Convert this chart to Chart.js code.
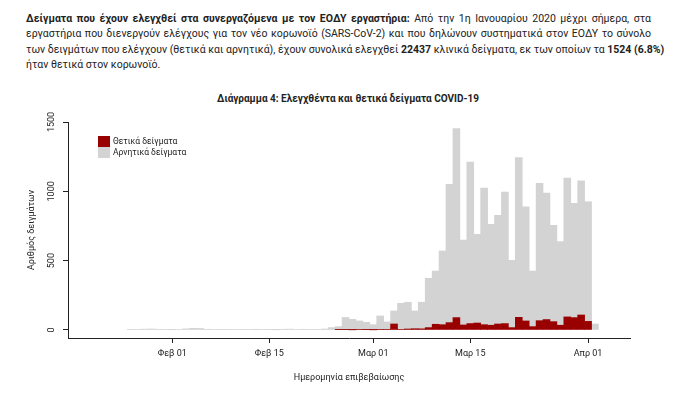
<!DOCTYPE html>
<html lang="el">
<head>
<meta charset="utf-8">
<script src="https://cdn.jsdelivr.net/npm/chart.js@4"></script>
<style>
  html, body { margin: 0; padding: 0; background: #fff; }
  body { width: 677px; height: 398px; position: relative; overflow: hidden; font-family: Roboto, "Noto Sans", sans-serif; color: #222; }
  .intro { position: absolute; left: 26px; top: 11px; width: 625px; font-size: 10.5px; line-height: 15.3px; }
  .intro div { text-align: justify; text-align-last: justify; white-space: nowrap; }
  .intro div.last { text-align-last: left; }
  .title { position: absolute; left: 148px; width: 400px; top: 93px; text-align: center; font-size: 10px; font-weight: bold; }
  #wrap { position: absolute; left: 0; top: 0; width: 677px; height: 398px; }
</style>
</head>
<body>
<div class="intro">
  <div><b>Δείγματα που έχουν ελεγχθεί στα συνεργαζόμενα με τον ΕΟΔΥ εργαστήρια:</b> Από την 1η Ιανουαρίου 2020 μέχρι σήμερα, στα</div>
  <div>εργαστήρια που διενεργούν ελέγχους για τον νέο κορωνοϊό (SARS-CoV-2) και που δηλώνουν συστηματικά στον ΕΟΔΥ το σύνολο</div>
  <div>των δειγμάτων που ελέγχουν (θετικά και αρνητικά), έχουν συνολικά ελεγχθεί <b>22437</b> κλινικά δείγματα, εκ των οποίων τα <b>1524 (6.8%)</b></div>
  <div class="last">ήταν θετικά στον κορωνοϊό.</div>
</div>
<div class="title">Διάγραμμα 4: Ελεγχθέντα και θετικά δείγματα COVID-19</div>
<div id="wrap"><canvas id="chart" width="677" height="398"></canvas></div>
<script>
// daily samples, 26 Jan - 3 Apr 2020
const firstDay = '2020-01-26';
const positive = [
  0, 0, 0, 0, 0, 0,
  0, 0, 0, 0, 0, 0, 0, 0, 0, 0, 0, 0, 0, 0,
  0, 0, 0, 0, 0, 0, 0, 0, 0, 0, 2, 2, 1, 3,
  2, 1, 3, 3, 43, 4, 7, 9, 8, 17, 41, 38, 53, 89, 36, 46,
  50, 38, 34, 43, 46, 17, 91, 65, 24, 67, 75, 60, 34, 94, 89,
  108, 62, 0
];
const negative = [
  3, 3, 6, 7, 5, 3,
  2, 4, 8, 12, 11, 5, 4, 3, 3, 4, 3, 3, 2, 3,
  2, 1, 5, 6, 4, 5, 3, 3, 7, 17, 22, 88, 76, 62,
  53, 37, 98, 55, 94, 188, 193, 128, 192, 356, 384, 532, 997, 1363, 613, 1165,
  640, 986, 728, 784, 949, 485, 1152, 824, 401, 991, 913, 695, 603, 1002, 824,
  967, 863, 43
];
const xTickDates = ['2020-02-01', '2020-02-15', '2020-03-01', '2020-03-15', '2020-04-01'];
const xTickLabels = ['Φεβ 01', 'Φεβ 15', 'Μαρ 01', 'Μαρ 15', 'Απρ 01'];
const yTicks = [0, 500, 1000, 1500];
const seriesLabels = ['Θετικά δείγματα', 'Αρνητικά δείγματα'];
const seriesColors = ['#990000', '#d3d3d3'];

function dayNumber(iso) {
  const [y, m, d] = iso.split('-').map(Number);
  return (Date.UTC(y, m - 1, d) - Date.UTC(2020, 0, 1)) / 864e5;
}

const start = dayNumber(firstDay);
// zero days are left out so that no empty bar is drawn
const toPoints = arr => arr.map((v, i) => ({ x: start + i, y: v === 0 ? null : v }));
const xTickValues = xTickDates.map(dayNumber);

const textColor = '#222';
const axisColor = '#222';
const fontFamily = 'Roboto, "Noto Sans", sans-serif';

const rotatedYLabels = {
  id: 'rotatedYLabels',
  afterDraw(chart) {
    const { ctx } = chart;
    const yScale = chart.scales.y;
    ctx.save();
    ctx.fillStyle = textColor;
    ctx.font = '9px ' + fontFamily;
    ctx.textAlign = 'center';
    ctx.textBaseline = 'middle';
    yTicks.forEach(v => {
      ctx.save();
      ctx.translate(52, yScale.getPixelForValue(v));
      ctx.rotate(-Math.PI / 2);
      ctx.fillText(String(v), 0, 0);
      ctx.restore();
    });
    ctx.restore();
  }
};

const boxLegend = {
  id: 'boxLegend',
  afterDraw(chart) {
    const { ctx } = chart;
    ctx.save();
    ctx.font = '8.5px ' + fontFamily;
    ctx.textBaseline = 'middle';
    seriesLabels.forEach((label, i) => {
      const top = 136 + i * 11;
      ctx.fillStyle = seriesColors[i];
      ctx.fillRect(98, top, 12, 11);
      ctx.fillStyle = textColor;
      ctx.fillText(label, 113, top + 5.5);
    });
    ctx.restore();
  }
};

new Chart(document.getElementById('chart').getContext('2d'), {
  type: 'bar',
  data: {
    datasets: [
      { label: seriesLabels[0], data: toPoints(positive), backgroundColor: seriesColors[0], borderWidth: 0, barPercentage: 1, categoryPercentage: 1, skipNull: true },
      { label: seriesLabels[1], data: toPoints(negative), backgroundColor: seriesColors[1], borderWidth: 0, barPercentage: 1, categoryPercentage: 1, skipNull: true }
    ]
  },
  options: {
    responsive: false,
    animation: false,
    layout: { padding: { left: 0, right: 47, top: 122, bottom: 0 } },
    plugins: { legend: { display: false }, tooltip: { enabled: false }, title: { display: false } },
    scales: {
      x: {
        type: 'linear',
        stacked: true,
        offset: false,
        min: 15.95,
        max: 97.05,
        afterFit: s => { s.height = 60; },
        afterBuildTicks: s => { s.ticks = xTickValues.map(v => ({ value: v })); },
        grid: { offset: false, drawOnChartArea: false, drawTicks: true, tickLength: 5, color: axisColor },
        border: { color: axisColor, width: 1 },
        ticks: {
          color: textColor,
          font: { size: 9, family: fontFamily },
          padding: 5,
          maxRotation: 0,
          autoSkip: false,
          callback: (v, i) => xTickLabels[i]
        },
        title: {
          display: true,
          text: 'Ημερομηνία επιβεβαίωσης',
          color: textColor,
          font: { size: 9, family: fontFamily },
          padding: { top: 0, bottom: 15 }
        }
      },
      y: {
        stacked: true,
        min: -58,
        max: 1500,
        afterFit: s => { s.width = 68; },
        afterBuildTicks: s => { s.ticks = yTicks.map(v => ({ value: v })); },
        grid: { drawOnChartArea: false, drawTicks: true, tickLength: 5, color: axisColor },
        border: { color: axisColor, width: 1 },
        ticks: { display: false },
        title: {
          display: true,
          text: 'Αριθμός δειγμάτων',
          color: textColor,
          font: { size: 9, family: fontFamily },
          padding: { top: 26, bottom: 0 }
        }
      }
    }
  },
  plugins: [rotatedYLabels, boxLegend]
});
</script>
</body>
</html>
